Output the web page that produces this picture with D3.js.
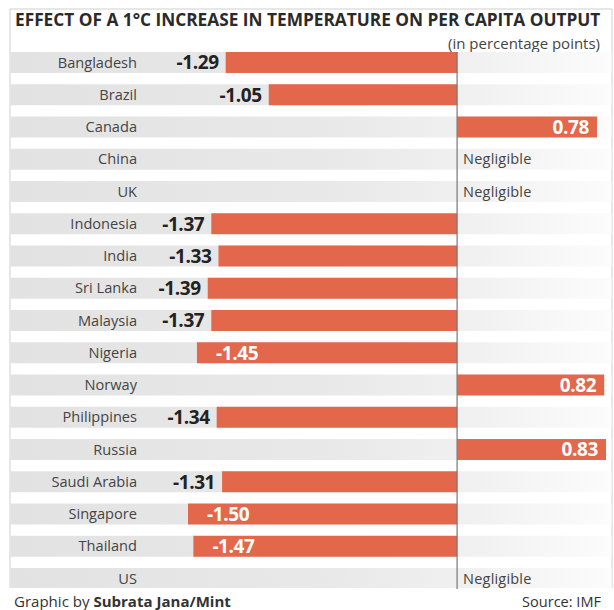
<!DOCTYPE html>
<html><head><meta charset="utf-8">
<script src="https://cdn.jsdelivr.net/npm/d3@7/dist/d3.min.js"></script>
<style>
html,body{margin:0;padding:0;background:#fff;}
svg{display:block;font-family:"Open Sans",sans-serif;}
</style></head>
<body>
<svg id="c" width="614" height="610"></svg>
<script>
const categories = ["Bangladesh","Brazil","Canada","China","UK","Indonesia","India","Sri Lanka","Malaysia","Nigeria","Norway","Philippines","Russia","Saudi Arabia","Singapore","Thailand","US"];
const values = [-1.29,-1.05,0.78,null,null,-1.37,-1.33,-1.39,-1.37,-1.45,0.82,-1.34,0.83,-1.31,-1.50,-1.47,null];
const valueLabels = ["-1.29","-1.05","0.78","Negligible","Negligible","-1.37","-1.33","-1.39","-1.37","-1.45","0.82","-1.34","0.83","-1.31","-1.50","-1.47","Negligible"];
const title = "EFFECT OF A 1°C INCREASE IN TEMPERATURE ON PER CAPITA OUTPUT";
const subtitle = "(in percentage points)";
const creditPrefix = "Graphic by ";
const creditName = "Subrata Jana/Mint";
const source = "Source: IMF";

const svg = d3.select("#c");
const L = 10, R = 612, T = 9, B = 588;

const defs = svg.append("defs");
const g = defs.append("linearGradient").attr("id","band").attr("gradientUnits","userSpaceOnUse")
  .attr("x1",L).attr("x2",R).attr("y1",0).attr("y2",0);
g.append("stop").attr("offset","0%").attr("stop-color","#e2e2e2");
g.append("stop").attr("offset","55%").attr("stop-color","#e9e9e9");
g.append("stop").attr("offset","78%").attr("stop-color","#f1f1f1");
g.append("stop").attr("offset","100%").attr("stop-color","#fcfcfc");
defs.append("clipPath").attr("id","frameClip").append("rect")
  .attr("x",L).attr("y",T).attr("width",R-L).attr("height",B-T);

const x = d3.scaleLinear().domain([-1.5, 0.83]).range([188, 606]);
const y = d3.scaleBand().domain(categories).range([52, 589]).paddingInner(0.35).paddingOuter(0);

// frame
svg.append("path")
  .attr("d",`M${L},${B} V${T} H${R} V${B}`)
  .attr("fill","none").attr("stroke","#cfcfcf").attr("stroke-width",1);

// title
const tt = svg.append("text").attr("x",15).attr("y",26)
  .attr("font-weight",700).attr("font-size",14).attr("fill","#2a2a2a").text(title);
const tw = tt.node().getComputedTextLength();
tt.attr("font-size", 14*586/tw);

const fitText = (sel, target) => {
  const fs = +sel.attr("font-size");
  const w = sel.node().getComputedTextLength();
  sel.attr("font-size", fs*target/w);
};

const st = svg.append("text").attr("x",600).attr("y",49).attr("text-anchor","end")
  .attr("font-size",12.5).attr("fill","#444").text(subtitle);
fitText(st, 152);

const rows = svg.append("g").attr("clip-path","url(#frameClip)");
const data = categories.map((c,i)=>({c, v: values[i], lab: valueLabels[i]}));

rows.selectAll("rect.band").data(data).join("rect")
  .attr("class","band").attr("x",L+0.5).attr("width",R-L-1)
  .attr("y",d=>y(d.c)).attr("height",y.bandwidth()).attr("fill","url(#band)");

rows.selectAll("rect.bar").data(data.filter(d=>d.v!==null)).join("rect")
  .attr("class","bar")
  .attr("x",d=>x(Math.min(0,d.v))).attr("width",d=>Math.abs(x(d.v)-x(0)))
  .attr("y",d=>y(d.c)).attr("height",y.bandwidth()).attr("fill","#e2674b");

// zero line
svg.append("line").attr("x1",x(0)).attr("x2",x(0)).attr("y1",y(categories[0])).attr("y2",B+1)
  .attr("stroke","#777").attr("stroke-width",1.2);

// category labels
svg.selectAll("text.cat").data(data).join("text").attr("class","cat")
  .attr("x",137).attr("y",d=>y(d.c)+y.bandwidth()/2).attr("dy","0.35em")
  .attr("text-anchor","end").attr("font-size",14.6).attr("fill","#444").text(d=>d.c);

// value labels
const inside = d => d.v !== null && (d.v > 0 || x(d.v) < 200);
svg.selectAll("text.val").data(data).join("text").attr("class","val")
  .attr("y",d=>y(d.c)+y.bandwidth()/2).attr("dy","0.36em")
  .attr("x",d=>{
    if (d.v===null) return x(0)+6;
    if (d.v>0) return x(d.v)-8;
    return inside(d) ? x(d.v)+19 : x(d.v)-7;
  })
  .attr("text-anchor",d=>{
    if (d.v===null) return "start";
    if (d.v>0) return "end";
    return inside(d) ? "start" : "end";
  })
  .attr("font-weight",d=>d.v===null?500:700)
  .attr("font-size",d=>d.v===null?14.5:19)
  .attr("letter-spacing",d=>d.v===null?0.2:-0.4)
  .attr("fill",d=>d.v===null?"#444":(inside(d)?"#fff":"#222"))
  .text(d=>d.lab);

// footer
const ft = svg.append("text").attr("x",14).attr("y",607).attr("font-size",13).attr("fill","#333");
ft.append("tspan").text(creditPrefix);
ft.append("tspan").attr("font-weight",700).text(creditName);
fitText(ft, 217);
const so = svg.append("text").attr("x",601).attr("y",607).attr("text-anchor","end")
  .attr("font-size",12).attr("fill","#333").text(source);
fitText(so, 79);
</script>
</body></html>
